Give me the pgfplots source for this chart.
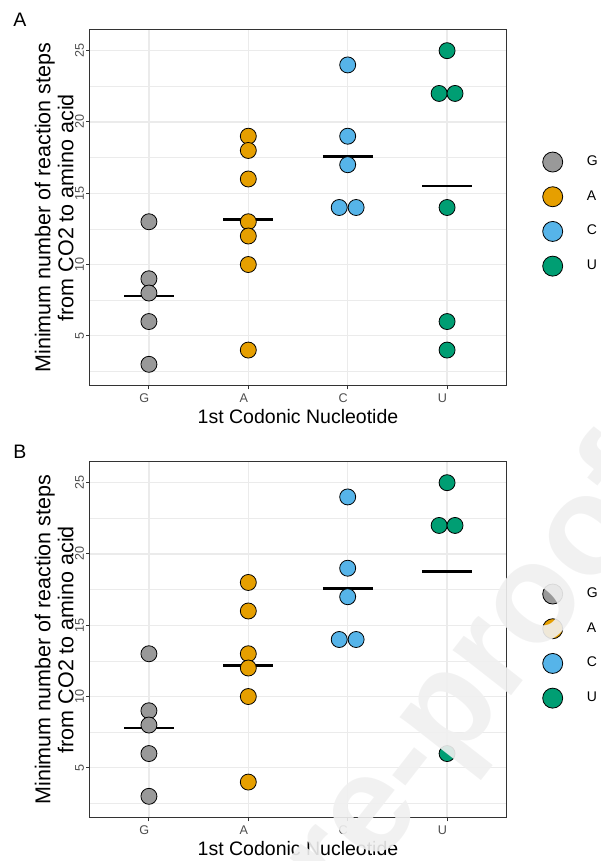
\documentclass[border=0pt]{standalone}
\usepackage{fontspec}
\setmainfont{Liberation Sans}
\usepackage{pgfplots}
\pgfplotsset{compat=1.18}
\definecolor{cG}{HTML}{999999}
\definecolor{cA}{HTML}{E69F00}
\definecolor{cC}{HTML}{56B4E9}
\definecolor{cU}{HTML}{009E73}
\definecolor{gridc}{HTML}{EBEBEB}
\definecolor{bordc}{HTML}{333333}
\definecolor{tickc}{HTML}{4D4D4D}
\definecolor{wm}{HTML}{F0F0F0}
\pgfplotsset{
  panel/.style={
    width=208.7pt, height=178.35pt, scale only axis,
    xmin=0.4, xmax=4.6, ymin=1.48, ymax=26.5,
    xtick={1,2,3,4}, xticklabels={G,A,C,U},
    ytick={5,10,15,20,25},
    minor ytick={2.5,7.5,12.5,17.5,22.5},
    grid=both,
    major grid style={gridc, line width=0.6pt},
    minor grid style={gridc, line width=0.35pt},
    axis line style={bordc, line width=0.5pt},
    tick style={bordc, line width=0.5pt},
    major tick length=1.65pt,
    minor tick length=0pt,
    tick align=outside,
    xtick pos=left, ytick pos=left,
    /pgf/number format/assume math mode=true,
    tick label style={font=\fontsize{6.3}{7}\selectfont, text=tickc},
    xticklabel style={inner sep=0pt, yshift=-2.2pt, xshift=-2.3pt},
    yticklabel style={rotate=90, anchor=south, inner sep=0.8pt},
    xlabel={1st Codonic Nucleotide},
    xlabel style={font=\fontsize{9.75}{10}\selectfont, at={(axis description cs:0.5,-0.1054)}, anchor=base},
    ylabel={Minimum number of reaction steps\\from CO2 to amino acid},
    ylabel style={font=\fontsize{10.75}{11.5}\selectfont, align=center, at={(axis description cs:-0.0841,0.5)}, anchor=center},
    legend style={draw=none, fill=none, inner sep=0pt, outer sep=0pt,
      at={(axis description cs:1.0853,0.657)}, anchor=north west,
      row sep=6.95pt, font=\fontsize{7}{8}\selectfont,
      /tikz/every odd column/.append style={column sep=9.85pt}},
    legend cell align=left,
  },
  dots/.style={only marks, mark=*, mark size=4pt, forget plot,
    mark options={fill=#1, draw=black, line width=0.4pt}},
  meanline/.style={black, line width=1.35pt, forget plot, line cap=butt},
}
\begin{document}
\begin{tikzpicture}
\useasboundingbox (0,0) rectangle (300pt,430.5pt);
% ---------------- Panel A ----------------
\begin{axis}[panel, at={(44.65pt,237.5pt)}, anchor=south west]
\addplot[dots=cG] coordinates {(1,13) (1,9) (1,8) (1,6) (1,3)};
\addplot[dots=cA] coordinates {(2,19) (2,18) (2,16) (2,13) (2,12) (2,10) (2,4)};
\addplot[dots=cC] coordinates {(3,24) (3,19) (3,17) (2.915,14) (3.085,14)};
\addplot[dots=cU] coordinates {(4,25) (3.92,22) (4.08,22) (4,14) (4,6) (4,4)};
\addplot[meanline] coordinates {(0.75,7.8) (1.25,7.8)};
\addplot[meanline] coordinates {(1.75,13.142857) (2.25,13.142857)};
\addplot[meanline] coordinates {(2.75,17.6) (3.25,17.6)};
\addplot[meanline] coordinates {(3.75,15.5) (4.25,15.5)};
\addlegendimage{legend image code/.code={\draw[fill=cG,draw=black,line width=0.4pt] (0pt,0pt) circle (5pt);}}
\addlegendentry{G}
\addlegendimage{legend image code/.code={\draw[fill=cA,draw=black,line width=0.4pt] (0pt,0pt) circle (5pt);}}
\addlegendentry{A}
\addlegendimage{legend image code/.code={\draw[fill=cC,draw=black,line width=0.4pt] (0pt,0pt) circle (5pt);}}
\addlegendentry{C}
\addlegendimage{legend image code/.code={\draw[fill=cU,draw=black,line width=0.4pt] (0pt,0pt) circle (5pt);}}
\addlegendentry{U}
\end{axis}
% ---------------- Panel B ----------------
\begin{axis}[panel, at={(44.65pt,21.5pt)}, anchor=south west]
\addplot[dots=cG] coordinates {(1,13) (1,9) (1,8) (1,6) (1,3)};
\addplot[dots=cA] coordinates {(2,18) (2,16) (2,13) (2,12) (2,10) (2,4)};
\addplot[dots=cC] coordinates {(3,24) (3,19) (3,17) (2.915,14) (3.085,14)};
\addplot[dots=cU] coordinates {(4,25) (3.92,22) (4.08,22) (4,6)};
\addplot[meanline] coordinates {(0.75,7.8) (1.25,7.8)};
\addplot[meanline] coordinates {(1.75,12.166667) (2.25,12.166667)};
\addplot[meanline] coordinates {(2.75,17.6) (3.25,17.6)};
\addplot[meanline] coordinates {(3.75,18.75) (4.25,18.75)};
\addlegendimage{legend image code/.code={\draw[fill=cG,draw=black,line width=0.4pt] (0pt,0pt) circle (5pt);}}
\addlegendentry{G}
\addlegendimage{legend image code/.code={\draw[fill=cA,draw=black,line width=0.4pt] (0pt,0pt) circle (5pt);}}
\addlegendentry{A}
\addlegendimage{legend image code/.code={\draw[fill=cC,draw=black,line width=0.4pt] (0pt,0pt) circle (5pt);}}
\addlegendentry{C}
\addlegendimage{legend image code/.code={\draw[fill=cU,draw=black,line width=0.4pt] (0pt,0pt) circle (5pt);}}
\addlegendentry{U}
\end{axis}
\node[anchor=base west, inner sep=0pt, font=\fontsize{9.75}{10}\selectfont] at (6.5pt,417.15pt) {A};
\node[anchor=base west, inner sep=0pt, font=\fontsize{9.75}{10}\selectfont] at (6.5pt,201pt) {B};
% watermark of the source page
\node[anchor=base west, inner sep=0pt, rotate=52, text=wm, text opacity=0.9,
  font=\fontsize{70}{70}\selectfont\bfseries] at (171.15pt,-25.45pt) {re-proof};
\end{tikzpicture}
\end{document}
